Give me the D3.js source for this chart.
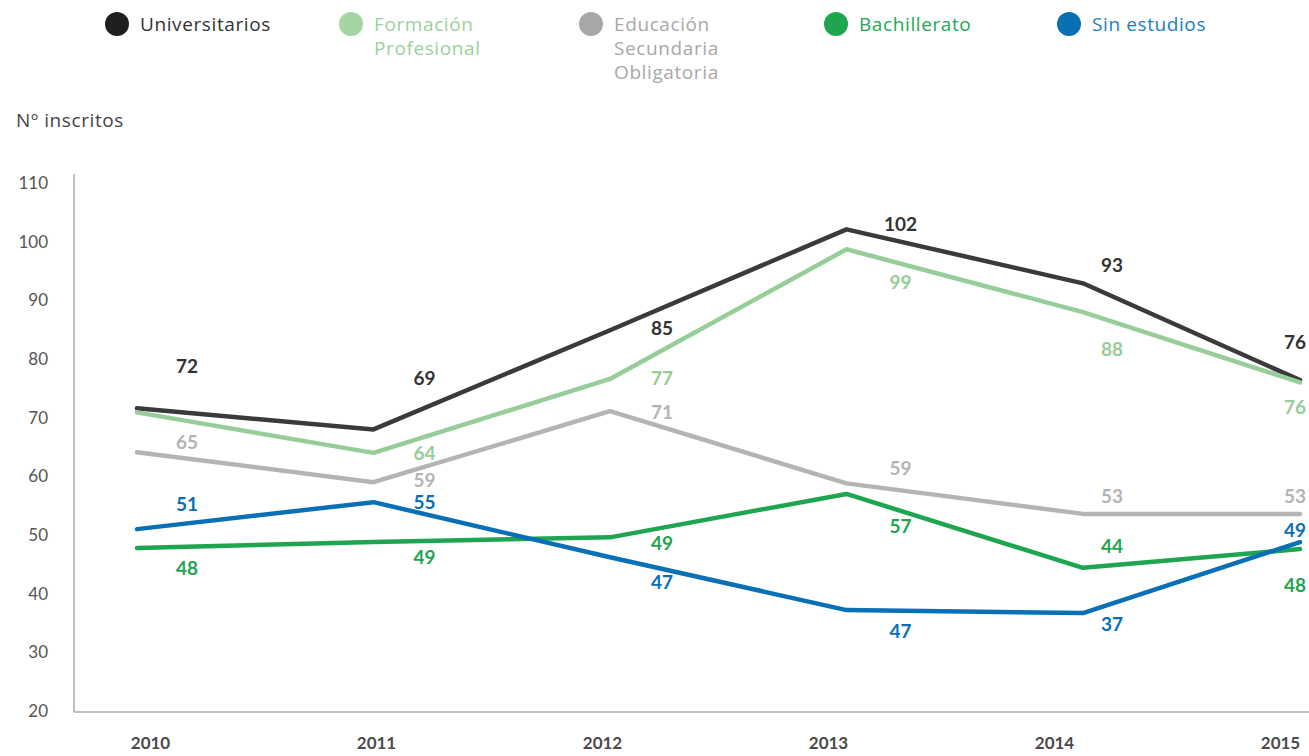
<!DOCTYPE html>
<html>
<head>
<meta charset="utf-8">
<script src="https://d3js.org/d3.v7.min.js"></script>
<style>
  body { margin: 0; background: #fff; }
  svg { display: block; font-family: Lato, "Open Sans", sans-serif; }
</style>
</head>
<body>
<svg id="chart" width="1309" height="756"></svg>
<script>
// data
const years = [2010, 2011, 2012, 2013, 2014, 2015];
const yTicks = [20, 30, 40, 50, 60, 70, 80, 90, 100, 110];

const seriesNames = ['Universitarios', 'Formación Profesional', 'Educación Secundaria Obligatoria', 'Bachillerato', 'Sin estudios'];
const legendLines = [['Universitarios'], ['Formación', 'Profesional'], ['Educación', 'Secundaria', 'Obligatoria'], ['Bachillerato'], ['Sin estudios']];

// line positions
const universitarios = [71.6, 68.0, 84.9, 102.1, 92.9, 76.4];
const formacionProfesional = [70.9, 64.0, 76.6, 98.7, 88.0, 76.0];
const secundaria = [64.1, 59.0, 71.1, 58.8, 53.6, 53.6];
const bachillerato = [47.8, 48.8, 49.6, 57.0, 44.4, 47.6];
const sinEstudios = [51.0, 55.6, 46.2, 37.2, 36.7, 48.8];

// printed labels (as in the source; null = no label)
const universitariosLabels = [72, 69, 85, 102, 93, 76];
const formacionLabels = [null, 64, 77, 99, 88, 76];
const secundariaLabels = [65, 59, 71, 59, 53, 53];
const bachilleratoLabels = [48, 49, 49, 57, 44, 48];
const sinEstudiosLabels = [51, 55, 47, 47, 37, 49];

const values = [universitarios, formacionProfesional, secundaria, bachillerato, sinEstudios];
const labels = [universitariosLabels, formacionLabels, secundariaLabels, bachilleratoLabels, sinEstudiosLabels];

// styling / layout
const lineColors = ['#3a3a3c', '#96cd98', '#b4b4b4', '#1fa54f', '#0a70b5'];
const dotColors = ['#1f1f22', '#a3d5a4', '#a9a7a5', '#1fa54f', '#0a70b5'];
const textColors = ['#333333', '#9bd19d', '#a8a8a8', '#23a856', '#1a7ec3'];
const legendX = [117, 351, 591, 836, 1069];
// label nudges (px) relative to the point
const labelDx = [50, 51, 52, 54, 29, -5];
const labelDy = [
  [-42, -51, -2, -5, -18, -38],
  [0, 0, -1, 33, 37, 25],
  [-10, -2, 1, -15, -18, -18],
  [20, 15, 6, 32, -22, 36],
  [-25, 0, 25, 21, 11, -12]
];

const svg = d3.select('#chart');

const x = d3.scaleLinear().domain([2010, 2014, 2015]).range([137, 1083, 1300]);
const xLabels = d3.scalePoint().domain(years).range([150, 1280]);
const y = d3.scaleLinear().domain([20, 110]).range([711, 183]);

// legend
const legend = svg.append('g');
seriesNames.forEach((name, i) => {
  const g = legend.append('g').attr('transform', 'translate(' + legendX[i] + ',24)');
  g.append('circle').attr('r', 12).attr('fill', dotColors[i]);
  const t = g.append('text')
      .attr('x', 23)
      .attr('fill', textColors[i])
      .style('font-family', '"Open Sans", sans-serif')
      .style('font-size', '19px')
      .style('letter-spacing', '0.6px');
  legendLines[i].forEach((ln, j) => {
    t.append('tspan').attr('x', 23).attr('y', j * 24).attr('dy', '0.35em').text(ln);
  });
});

svg.append('text')
    .attr('x', 16).attr('y', 120).attr('dy', '0.35em')
    .attr('fill', '#444')
    .style('font-family', '"Open Sans", sans-serif')
    .style('font-size', '19px')
    .style('letter-spacing', '0.6px')
    .text('Nº inscritos');

// y axis
const yAxis = svg.append('g')
    .attr('transform', 'translate(74,0)')
    .call(d3.axisLeft(y).tickValues(yTicks).tickSize(0).tickPadding(26));
yAxis.select('.domain').remove();
yAxis.selectAll('text').attr('fill', '#555').style('font-size', '17px').style('font-family', 'Lato, sans-serif');

svg.append('line')
    .attr('x1', 74).attr('x2', 74).attr('y1', 174).attr('y2', y(20) + 1)
    .attr('stroke', '#aaa').attr('stroke-width', 1.5);
svg.append('line')
    .attr('x1', 74).attr('x2', 1309).attr('y1', y(20) + 1).attr('y2', y(20) + 1)
    .attr('stroke', '#aaa').attr('stroke-width', 1.5);

// x axis labels
const xAxis = svg.append('g')
    .attr('transform', 'translate(0,' + (y(20) + 1) + ')')
    .call(d3.axisBottom(xLabels).tickSize(0).tickPadding(25).tickFormat(d3.format('d')));
xAxis.select('.domain').remove();
xAxis.selectAll('text').attr('fill', '#4a4a4a').style('font-size', '17px').style('font-weight', 'bold').style('font-family', 'Lato, sans-serif');

// lines
const line = d3.line()
    .x((d, i) => x(years[i]))
    .y(d => y(d));

values.forEach((vals, s) => {
  svg.append('path')
      .datum(vals)
      .attr('fill', 'none')
      .attr('stroke', lineColors[s])
      .attr('stroke-width', 4.5)
      .attr('stroke-linejoin', 'round')
      .attr('stroke-linecap', 'round')
      .attr('d', line);
});

// value labels
values.forEach((vals, s) => {
  const pts = vals.map((v, i) => ({ v: v, i: i, label: labels[s][i] }))
      .filter(d => d.label !== null);
  svg.append('g')
    .selectAll('text')
    .data(pts)
    .join('text')
      .attr('x', d => x(years[d.i]) + labelDx[d.i])
      .attr('y', d => y(d.v) + labelDy[s][d.i])
      .attr('dy', '0.35em')
      .attr('text-anchor', 'middle')
      .attr('fill', s === 0 ? '#333' : lineColors[s])
      .style('font-size', '19px')
      .style('font-weight', 'bold')
      .text(d => d.label);
});
</script>
</body>
</html>
